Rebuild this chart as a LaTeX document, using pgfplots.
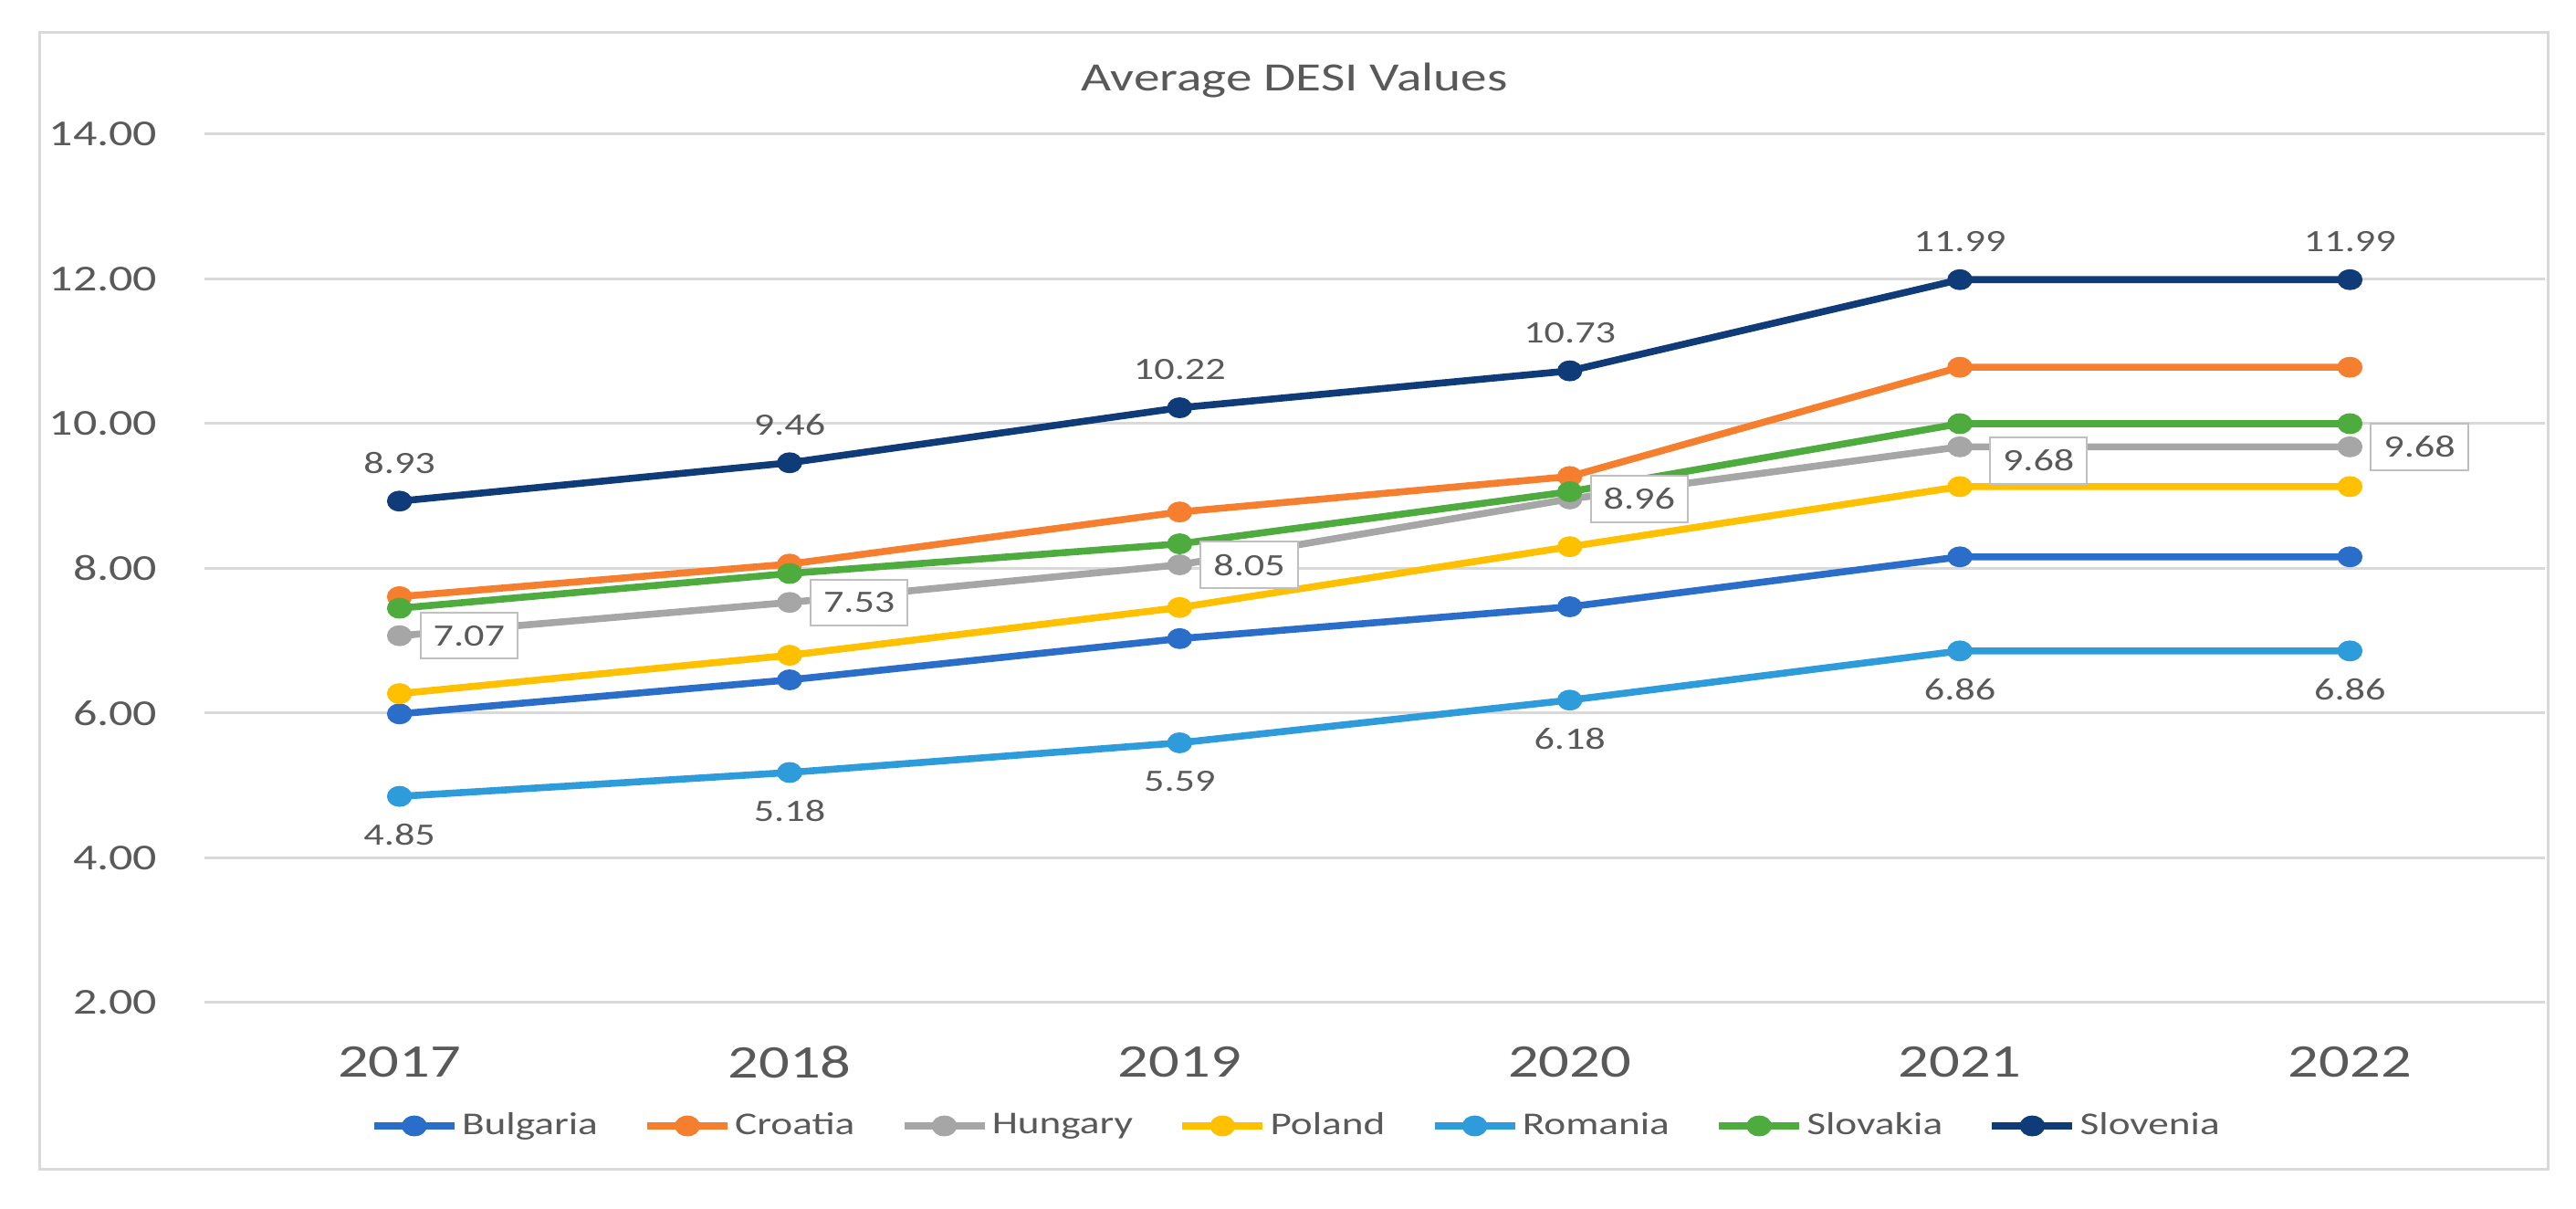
\documentclass[border=0pt]{standalone}
\usepackage{fontspec}
\setmainfont{Carlito}[FakeStretch=1.3]
\usepackage{pgfplots}
\pgfplotsset{compat=1.18}
\usepackage{pgfplotstable}

\definecolor{gridgray}{HTML}{D9D9D9}
\definecolor{textgray}{HTML}{595959}
\definecolor{boxgray}{HTML}{BFBFBF}
\definecolor{cBul}{HTML}{2A6EC9}
\definecolor{cCro}{HTML}{F57F2E}
\definecolor{cHun}{HTML}{A6A6A6}
\definecolor{cPol}{HTML}{FFC000}
\definecolor{cRom}{HTML}{2E9CDB}
\definecolor{cSvk}{HTML}{4EAC3F}
\definecolor{cSvn}{HTML}{0F3C78}

\newcommand\fs[1]{\fontsize{#1}{#1}\selectfont}

% average DESI values, 2017-2022
\pgfplotstableread{
x Bulgaria Croatia Hungary Poland Romania Slovakia Slovenia
0 5.99 7.61 7.07 6.27 4.85 7.45 8.93
1 6.46 8.06 7.53 6.80 5.18 7.93 9.46
2 7.03 8.78 8.05 7.46 5.59 8.34 10.22
3 7.47 9.27 8.96 8.30 6.18 9.06 10.73
4 8.16 10.78 9.68 9.13 6.86 10.00 11.99
5 8.16 10.78 9.68 9.13 6.86 10.00 11.99
}\desi

\begin{document}
\begin{tikzpicture}
\useasboundingbox (0,0) rectangle (705.5pt,331pt);
\draw[gridgray, line width=0.75pt] (10.75pt,10.75pt) rectangle (697.75pt,322pt);
\node[anchor=base, text=textgray, font=\fs{11pt}] at (354.5pt,306pt) {Average DESI Values};
\begin{axis}[
  at={(56pt,56.5pt)}, anchor=south west,
  scale only axis, width=641pt, height=237.75pt,
  clip=false,
  xmin=-0.5, xmax=5.5, ymin=2, ymax=14,
  xtick={0,1,2,3,4,5},
  xticklabels={2017,2018,2019,2020,2021,2022},
  ytick={2,4,6,8,10,12,14},
  yticklabels={2.00,4.00,6.00,8.00,10.00,12.00,14.00},
  /pgf/number format/assume math mode=true,
  axis line style={draw=none},
  major tick length=0pt,
  ymajorgrids,
  grid style={gridgray, line width=0.75pt},
  xticklabel style={font=\fs{12.8pt}, text=textgray, inner sep=0pt, anchor=north, yshift=-11.75pt},
  yticklabel style={font=\fs{10pt}, text=textgray, inner sep=0pt, anchor=east, xshift=-12.75pt},
  every axis plot/.append style={line width=1.9pt, mark=*, mark size=1.9pt, mark options={xscale=1.3}},
  legend columns=-1,
  legend style={at={(0.4669,-0.142)}, anchor=center, draw=none, fill=none,
    font=\fs{8.7pt}, text=textgray,
    nodes={inner sep=1.1pt},
    /tikz/every even column/.append style={column sep=11.5pt}},
  legend image code/.code={\draw[mark repeat=2, mark phase=2, #1] plot coordinates {(0pt,0pt) (11pt,0pt) (22pt,0pt)};},
]
\addplot[cBul] table[x=x, y=Bulgaria] {\desi};
\addplot[cCro] table[x=x, y=Croatia] {\desi};
\addplot[cHun] table[x=x, y=Hungary] {\desi};
\addplot[cPol] table[x=x, y=Poland] {\desi};
\addplot[cRom] table[x=x, y=Romania] {\desi};
\addplot[cSvk] table[x=x, y=Slovakia] {\desi};
\addplot[cSvn] table[x=x, y=Slovenia] {\desi};
\legend{Bulgaria,Croatia,Hungary,Poland,Romania,Slovakia,Slovenia}

% data labels on top of all lines
\addplot[draw=none, mark=none, forget plot,
  nodes near coords={\pgfmathprintnumber[fixed,fixed zerofill,precision=2]{\pgfplotspointmeta}},
  every node near coord/.append style={anchor=center, yshift=10.5pt, inner sep=0pt, text=textgray, font=\fs{8.5pt}}]
  table[x=x, y=Slovenia] {\desi};
\addplot[draw=none, mark=none, forget plot,
  nodes near coords={\pgfmathprintnumber[fixed,fixed zerofill,precision=2]{\pgfplotspointmeta}},
  every node near coord/.append style={anchor=center, yshift=-10.5pt, inner sep=0pt, text=textgray, font=\fs{8.5pt}}]
  table[x=x, y=Romania] {\desi};
\addplot[draw=none, mark=none, forget plot,
  nodes near coords={\pgfmathprintnumber[fixed,fixed zerofill,precision=2]{\pgfplotspointmeta}},
  every node near coord/.append style={anchor=west, xshift=5.5pt, draw=boxgray, fill=white, line width=0.5pt,
    inner xsep=3.5pt, inner ysep=3.5pt, text=textgray, font=\fs{8.5pt}},
  coordinate style/.condition={\coordindex==4}{xshift=2.5pt, yshift=-3.75pt}]
  table[x=x, y=Hungary] {\desi};
\end{axis}
\end{tikzpicture}
\end{document}
